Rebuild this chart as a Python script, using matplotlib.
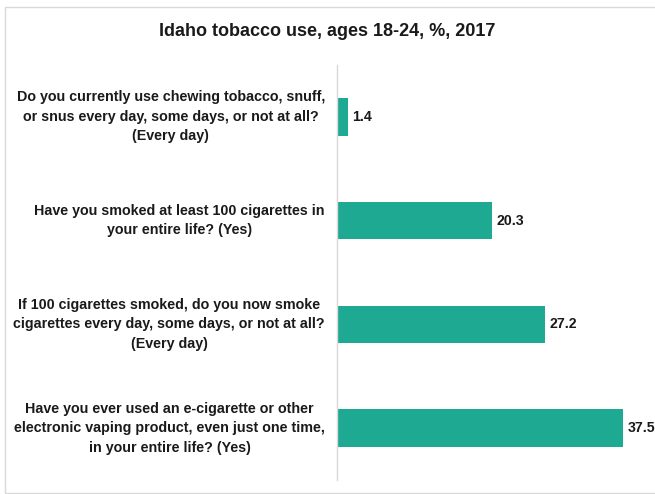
import matplotlib.pyplot as plt
from matplotlib.patches import Rectangle
from matplotlib.transforms import blended_transform_factory

preguntas = [
    "Do you currently use chewing tobacco, snuff,\nor snus every day, some days, or not at all?\n(Every day)",
    "Have you smoked at least 100 cigarettes in\nyour entire life? (Yes)",
    "If 100 cigarettes smoked, do you now smoke\ncigarettes every day, some days, or not at all?\n(Every day)",
    "Have you ever used an e-cigarette or other\nelectronic vaping product, even just one time,\nin your entire life? (Yes)",
]
valores = [1.4, 20.3, 27.2, 37.5]
titulo = "Idaho tobacco use, ages 18-24, %, 2017"

plt.rcParams['font.family'] = ['Liberation Sans Narrow', 'Liberation Sans', 'DejaVu Sans']

fig = plt.figure(figsize=(6.55, 4.94), dpi=100)
W, H = 655, 494

# marco gris del grafico
fig.patches.append(Rectangle((5 / W, 1 / H), 1.2, (H - 8) / H, transform=fig.transFigure,
                             fill=False, edgecolor='#d9d9d9', linewidth=1.0))

ax = fig.add_axes([337 / W, (H - 480) / H, (645 - 337) / W, (480 - 65) / H])
pos = list(range(len(valores)))
ax.barh(pos, valores, height=0.36, color='#1eaa92')
ax.set_ylim(3.5, -0.5)
ax.set_xlim(0, 308 / 7.63)

for s in ['top', 'right', 'bottom']:
    ax.spines[s].set_visible(False)
ax.spines['left'].set_color('#d9d9d9')
ax.spines['left'].set_linewidth(1.0)
ax.set_xticks([])
ax.set_yticks([])

trans = blended_transform_factory(fig.transFigure, ax.transData)
for p, q in zip(pos, preguntas):
    fig.text(325 / W, p, q, transform=trans, ha='right', va='center',
             multialignment='center', fontsize=10.3, fontweight='bold', color='#1a1a1a',
             linespacing=1.5)

for p, v in zip(pos, valores):
    ax.text(v + 0.6, p, f"{v:.1f}", ha='left', va='center', fontsize=10.2,
            fontweight='bold', color='#1a1a1a', clip_on=False)

fig.text(327 / W, (H - 32) / H, titulo, ha='center', va='center', fontsize=13,
         fontweight='bold', color='#1a1a1a')

fig.savefig('out.png', dpi=100)
